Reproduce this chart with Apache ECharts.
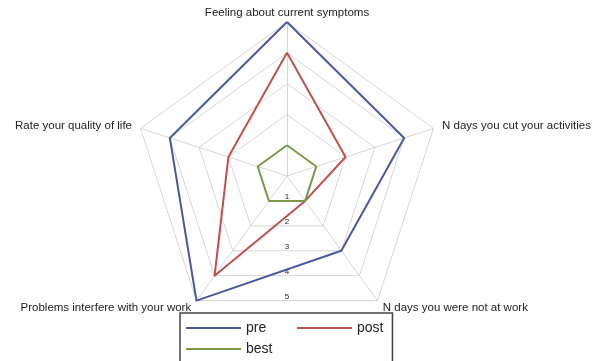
<!DOCTYPE html>
<html>
<head>
<meta charset="utf-8">
<script src="https://cdn.jsdelivr.net/npm/echarts@6/dist/echarts.min.js"></script>
<style>
  html, body { margin: 0; padding: 0; background: #fff; }
  #chart { width: 597px; height: 361px; }
</style>
</head>
<body>
<div id="chart"></div>
<script>
// Indicators, counter-clockwise from the top
const indicators = [
  "Feeling about current symptoms",
  "Rate your quality of life",
  "Problems interfere with your work",
  "N days you were not at work",
  "N days you cut your activities",
];

const preValues = [5, 4, 5, 3, 4];
const postValues = [4, 2, 4, 1, 2];
const bestValues = [1, 1, 1, 1, 1];

// Ring labels shown below the centre
const ringLabels = ["1", "2", "3", "4", "5"];

const fontFamily = '"Liberation Sans", Arial, sans-serif';
const gridGray = "#d6d6d6";

const chart = echarts.init(document.getElementById("chart"));

// shared legend look
const legendBase = {
  itemGap: 7,
  itemWidth: 55,
  itemHeight: 14,
  icon: "path://M0,0 L55,0 L55,2 L0,2 Z",
  textStyle: { fontSize: 14, color: "#222", fontFamily: fontFamily },
};

const option = {
  animation: false,
  textStyle: { fontFamily: fontFamily },
  radar: {
    center: [287, 176],
    radius: 154,
    shape: "polygon",
    startAngle: 90,
    splitNumber: 5,
    indicator: indicators.map((name) => ({ name: name, min: 0, max: 5 })),
    axisName: {
      color: "#222",
      fontSize: 11.5,
      fontFamily: fontFamily,
      verticalAlign: "middle",
    },
    nameGap: 9,
    axisLine: { lineStyle: { color: gridGray, width: 1 } },
    splitLine: { lineStyle: { color: gridGray, width: 1 } },
    splitArea: { show: false },
    axisTick: { show: false },
    axisLabel: { show: false },
  },
  // hidden axis only used for the 1..5 ring labels
  grid: { left: 287, top: 176, width: 1, height: 124.5 },
  xAxis: { type: "value", show: false },
  yAxis: {
    type: "value",
    min: 0,
    max: 5,
    interval: 1,
    inverse: true,
    axisLine: { show: false },
    axisTick: { show: false },
    splitLine: { show: false },
    axisLabel: {
      align: "center",
      verticalAlign: "bottom",
      margin: 0,
      fontSize: 8,
      color: "#222",
      formatter: (v) => ringLabels[v - 1] || "",
    },
  },
  legend: [
    Object.assign({}, legendBase, {
      left: 180,
      top: 313,
      height: 40,
      orient: "vertical",
      padding: [8, 120, 8, 6],
      borderColor: "#444",
      borderWidth: 1.5,
      data: ["pre", "best"],
    }),
    Object.assign({}, legendBase, {
      left: 297,
      top: 321,
      orient: "horizontal",
      padding: 0,
      data: ["post"],
    }),
  ],
  series: [
    {
      type: "radar",
      symbol: "none",
      data: [
        {
          name: "pre",
          value: preValues,
          lineStyle: { color: "#4a58a0", width: 2 },
          itemStyle: { color: "#4a58a0" },
        },
        {
          name: "post",
          value: postValues,
          lineStyle: { color: "#c0504d", width: 2 },
          itemStyle: { color: "#c0504d" },
        },
        {
          name: "best",
          value: bestValues,
          lineStyle: { color: "#7a9a45", width: 2 },
          itemStyle: { color: "#7a9a45" },
        },
      ],
    },
  ],
};

chart.setOption(option);
</script>
</body>
</html>
